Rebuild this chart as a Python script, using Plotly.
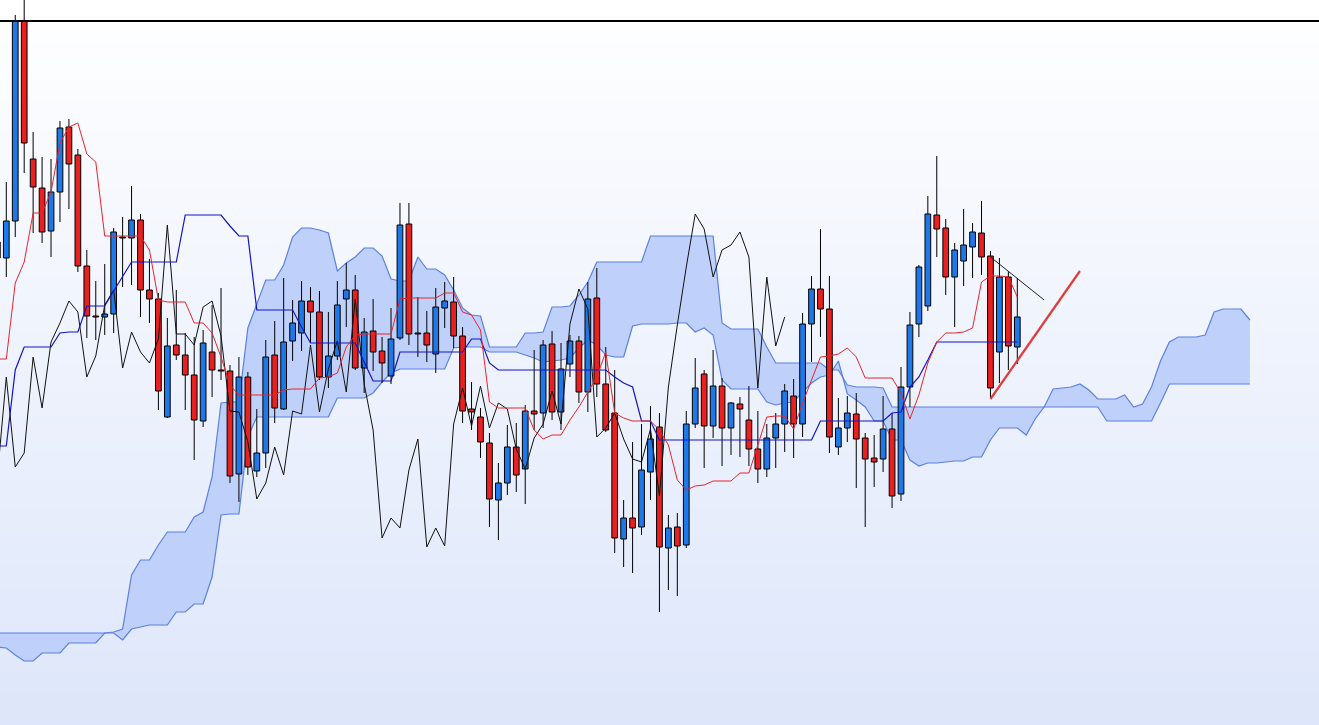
import plotly.graph_objects as go

# 蠟燭位置 (索引)，-1 為左側被裁切的一根
idx = list(range(-1, 114))

opens = [758, 742, 779, 979, 841, 812, 769, 808, 873, 845,
         734, 684, 683, 686, 763, 762, 780, 710, 701, 583,
         655, 645, 625, 579, 648, 630, 629, 526, 623, 529,
         547, 645, 591, 659, 667, 699, 688, 623, 644, 701,
         710, 632, 669, 649, 624, 662, 776, 667, 667, 646,
         692, 698, 664, 591, 583, 557, 500, 517, 553, 531,
         589, 587, 656, 588, 636, 659, 608, 702, 616, 587,
         461, 482, 473, 528, 573, 452, 473, 455, 576, 626,
         574, 614, 572, 596, 580, 551, 531, 562, 576, 604,
         576, 676, 711, 691, 553, 572, 586, 562, 542, 541,
         571, 506, 613, 676, 694, 785, 772, 723, 739, 753,
         767, 744, 648, 723, 653]
highs = [762, 818, 985, 1005, 868, 843, 841, 879, 881, 851,
         750, 719, 736, 772, 783, 814, 786, 741, 707, 682,
         710, 667, 663, 670, 695, 712, 635, 643, 628, 591,
         660, 679, 722, 700, 719, 713, 709, 688, 719, 737,
         725, 682, 701, 663, 692, 797, 797, 703, 689, 712,
         718, 723, 673, 618, 592, 567, 537, 575, 577, 595,
         650, 660, 669, 657, 665, 664, 718, 732, 653, 630,
         500, 558, 576, 594, 587, 485, 487, 589, 642, 630,
         650, 622, 598, 603, 614, 589, 576, 587, 616, 621,
         687, 724, 771, 724, 602, 604, 607, 567, 565, 604,
         587, 633, 688, 735, 804, 844, 781, 757, 791, 777,
         799, 749, 742, 729, 722]
lows = [738, 723, 763, 827, 767, 757, 743, 778, 791, 728,
        662, 660, 665, 667, 713, 715, 683, 677, 590, 582,
        640, 590, 540, 573, 603, 620, 517, 498, 525, 523,
        532, 577, 590, 639, 649, 657, 620, 612, 640, 673,
        630, 607, 629, 617, 616, 660, 655, 643, 638, 627,
        672, 652, 577, 570, 542, 473, 460, 505, 508, 496,
        570, 572, 580, 570, 623, 597, 588, 603, 568, 447,
        433, 427, 465, 500, 388, 410, 404, 452, 572, 532,
        562, 534, 545, 543, 534, 517, 523, 532, 548, 542,
        563, 638, 663, 547, 545, 558, 512, 473, 513, 528,
        492, 499, 593, 663, 689, 743, 705, 673, 714, 722,
        725, 602, 617, 630, 636]
closes = [742, 779, 979, 857, 813, 768, 808, 872, 836, 734,
          684, 683, 686, 768, 762, 780, 710, 701, 609, 654,
          645, 625, 580, 657, 630, 629, 524, 623, 533, 547,
          643, 592, 658, 677, 699, 688, 623, 644, 695, 710,
          632, 668, 648, 637, 661, 775, 666, 666, 655, 693,
          699, 664, 589, 588, 558, 501, 517, 553, 525, 589,
          586, 655, 588, 631, 659, 608, 701, 616, 570, 462,
          482, 472, 530, 561, 453, 472, 454, 576, 612, 574,
          614, 572, 597, 591, 551, 531, 562, 576, 609, 576,
          676, 711, 691, 563, 572, 587, 561, 541, 538, 571,
          504, 613, 675, 733, 786, 771, 723, 750, 755, 768,
          743, 612, 723, 654, 683]

# 轉換線 / 基準線
tenkan = [641, 641, 717, 738, 787, 787, 808, 857, 873, 877,
          846, 838, 764, 764, 764, 764, 764, 750, 700, 698,
          698, 698, 677, 677, 667, 643, 615, 605, 605, 605,
          605, 605, 610, 611, 611, 611, 622, 623, 627, 653,
          665, 666, 666, 666, 666, 701, 702, 702, 702, 702,
          707, 707, 688, 685, 670, 598, 592, 592, 592, 592,
          570, 561, 565, 565, 580, 593, 608, 623, 648, 587,
          582, 579, 579, 579, 570, 555, 520, 510, 514, 515,
          519, 519, 519, 527, 527, 555, 583, 584, 584, 571,
          597, 620, 643, 644, 646, 652, 643, 622, 622, 622,
          622, 607, 581, 605, 637, 658, 667, 667, 668, 672,
          718, 724, 724, 723, 703]
kijun = [554, 554, 630, 653, 653, 653, 653, 667, 668, 668,
         694, 694, 694, 709, 724, 738, 738, 738, 738, 738,
         738, 785, 785, 785, 785, 785, 774, 764, 764, 690,
         690, 690, 690, 690, 673, 657, 657, 657, 657, 657,
         657, 638, 619, 619, 619, 648, 648, 648, 648, 648,
         648, 648, 648, 661, 661, 637, 630, 630, 630, 630,
         630, 630, 630, 630, 630, 630, 630, 630, 630, 623,
         617, 613, 579, 579, 560, 560, 560, 560, 560, 560,
         560, 560, 560, 560, 560, 560, 560, 560, 560, 560,
         560, 560, 579, 579, 579, 579, 579, 579, 579, 579,
         587, 588, 613, 623, 640, 658, 658, 658, 658, 658,
         658, 658, 658, 658, 658]

# 雲 (先行スパン)，位置 -1 ~ 139
cloud_idx = list(range(-1, 140))
span_a = [367, 367, 367, 367, 367, 367, 367, 367, 367, 367,
          367, 367, 367, 368, 371, 425, 440, 440, 455, 468,
          468, 468, 483, 488, 523, 597, 598, 598, 672, 695,
          720, 720, 735, 763, 772, 772, 770, 767, 729, 737,
          743, 752, 752, 744, 721, 719, 719, 743, 731, 731,
          725, 710, 692, 685, 684, 653, 653, 653, 653, 667,
          667, 668, 693, 693, 694, 705, 718, 738, 738, 738,
          738, 738, 738, 764, 764, 764, 764, 764, 764, 764,
          764, 677, 671, 671, 671, 671, 653, 637, 637, 637,
          637, 637, 637, 630, 630, 615, 613, 613, 613, 612,
          593, 593, 593, 593, 593, 593, 593, 593, 593, 593,
          593, 593, 593, 593, 593, 593, 593, 593, 593, 593,
          593, 593, 593, 593, 579, 579, 579, 579, 579, 579,
          597, 616, 616, 616, 616, 616, 616, 616, 616, 616,
          616]
span_b = [353, 352, 345, 339, 339, 347, 347, 347, 357, 357,
          357, 357, 367, 367, 360, 371, 373, 375, 375, 375,
          388, 388, 396, 396, 423, 485, 486, 486, 563, 583,
          583, 583, 583, 583, 583, 583, 583, 583, 602, 602,
          602, 602, 607, 618, 627, 631, 631, 631, 631, 631,
          631, 652, 653, 653, 653, 648, 648, 648, 648, 645,
          642, 638, 639, 640, 642, 652, 660, 655, 645, 643,
          643, 674, 676, 676, 676, 676, 677, 677, 668, 672,
          665, 620, 611, 611, 611, 611, 598, 595, 597, 598,
          608, 617, 623, 625, 639, 606, 600, 593, 579, 579,
          560, 560, 540, 534, 537, 537, 538, 539, 539, 543,
          543, 560, 572, 572, 572, 565, 581, 593, 611, 612,
          613, 616, 610, 601, 601, 601, 605, 593, 596, 613,
          639, 658, 663, 663, 663, 665, 688, 691, 691, 691,
          680]

chikou_shift = 26

# 水平線與趨勢線
level_line = 979
red_trend_x = [110, 120]
red_trend_y = [601, 729]
black_trend_x = [110, 116]
black_trend_y = [743, 700]

UP = "#1f78e8"
DOWN = "#e8201f"
W, H = 1319, 725
xr = [-0.704, 146.72]
yr = [275, 1000]

fig = go.Figure()

# 背景漸層 (白 -> 淡藍)，用平滑的 heatmap 畫
fig.add_trace(go.Heatmap(x=xr, y=[yr[0], yr[1]], z=[[0, 0], [1, 1]],
                         colorscale=[[0, "rgb(221,230,250)"], [1, "rgb(255,255,255)"]],
                         zsmooth="best", showscale=False, hoverinfo="skip",
                         xaxis="x", yaxis="y"))

# 雲 (底層座標軸)
fig.add_trace(go.Scatter(x=cloud_idx, y=span_a, mode="lines",
                         line=dict(color="#5b80e2", width=1.2),
                         xaxis="x", yaxis="y", hoverinfo="skip"))
fig.add_trace(go.Scatter(x=cloud_idx, y=span_b, mode="lines",
                         line=dict(color="#5b80e2", width=1.2),
                         fill="tonexty", fillcolor="#bfd1fa",
                         xaxis="x", yaxis="y", hoverinfo="skip"))

# K 線實體
body_base = [min(o, c) for o, c in zip(opens, closes)]
body_h = [abs(c - o) for o, c in zip(opens, closes)]
body_col = [UP if c > o else DOWN for o, c in zip(opens, closes)]
fig.add_trace(go.Bar(x=idx, y=body_h, base=body_base, width=0.64,
                     marker=dict(color=body_col, line=dict(color="black", width=1)),
                     xaxis="x2", yaxis="y2", hoverinfo="skip"))

# 影線 (分上下兩段，避免穿過實體)
wx, wy = [], []
for i, o, h, l, c in zip(idx, opens, highs, lows, closes):
    wx += [i, i, None, i, i, None]
    wy += [h, max(o, c), None, min(o, c), l, None]
fig.add_trace(go.Scatter(x=wx, y=wy, mode="lines",
                         line=dict(color="black", width=1),
                         xaxis="x2", yaxis="y2", hoverinfo="skip"))

# 遲行線、轉換線、基準線
fig.add_trace(go.Scatter(x=[i - chikou_shift for i in idx], y=closes, mode="lines",
                         line=dict(color="#111111", width=1),
                         xaxis="x2", yaxis="y2", hoverinfo="skip"))
fig.add_trace(go.Scatter(x=idx, y=kijun, mode="lines",
                         line=dict(color="#1414c8", width=1.2),
                         xaxis="x2", yaxis="y2", hoverinfo="skip"))
fig.add_trace(go.Scatter(x=idx, y=tenkan, mode="lines",
                         line=dict(color="#e8242a", width=1),
                         xaxis="x2", yaxis="y2", hoverinfo="skip"))

# 趨勢線
fig.add_trace(go.Scatter(x=red_trend_x, y=red_trend_y, mode="lines",
                         line=dict(color="#e03a3a", width=2.2),
                         xaxis="x2", yaxis="y2", hoverinfo="skip"))
fig.add_trace(go.Scatter(x=black_trend_x, y=black_trend_y, mode="lines",
                         line=dict(color="#222222", width=1),
                         xaxis="x2", yaxis="y2", hoverinfo="skip"))

fig.add_shape(type="line", xref="paper", yref="y", x0=0, x1=1,
              y0=level_line, y1=level_line, line=dict(color="black", width=2))

fig.update_layout(
    width=W, height=H,
    margin=dict(l=0, r=0, t=0, b=0),
    showlegend=False,
    barmode="overlay",
    paper_bgcolor="white",
    plot_bgcolor="rgba(0,0,0,0)",
    xaxis=dict(range=xr, visible=False, fixedrange=True),
    yaxis=dict(range=yr, visible=False, fixedrange=True),
    xaxis2=dict(range=xr, visible=False, overlaying="x", fixedrange=True),
    yaxis2=dict(range=yr, visible=False, overlaying="y", fixedrange=True),
)

fig.write_html("out.html", config={"displayModeBar": False},
               post_script="document.body.style.margin='0';")
